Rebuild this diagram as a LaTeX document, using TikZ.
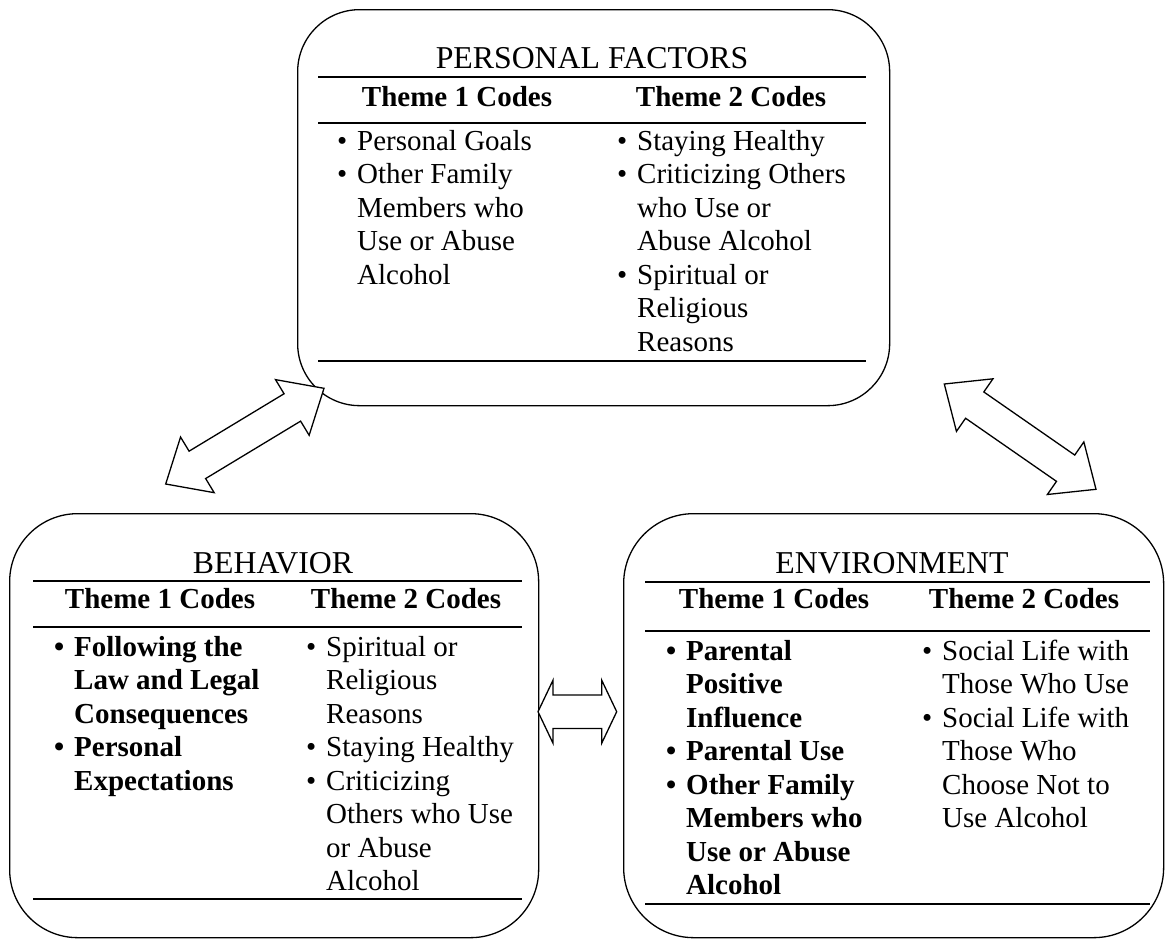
\documentclass[tikz,border=0pt]{standalone}
\usepackage{fontspec}
\setmainfont{Liberation Serif}
\usetikzlibrary{calc}
\newcommand{\bitem}[1]{\makebox[20pt][l]{\textbullet}#1}
\newcommand{\citem}[1]{\hspace*{20pt}#1}
\newcommand{\mydblarrow}[5]{%
  \coordinate (#1h) at ($(#1)!#3!(#2)$);
  \coordinate (#2h) at ($(#2)!#3!(#1)$);
  \draw[barrow] (#1)
   -- ($(#1h)!#4!90:(#2)$) -- ($(#1h)!#5!90:(#2)$)
   -- ($(#2h)!#5!-90:(#1)$) -- ($(#2h)!#4!-90:(#1)$)
   -- (#2)
   -- ($(#2h)!#4!90:(#1)$) -- ($(#2h)!#5!90:(#1)$)
   -- ($(#1h)!#5!-90:(#2)$) -- ($(#1h)!#4!-90:(#2)$)
   -- cycle;}
\begin{document}
\begin{tikzpicture}[x=1pt,y=-1pt,
  box/.style={draw, line width=1.3pt, inner sep=0pt, anchor=north west},
  rule/.style={line width=2.8pt},
  ttl/.style={anchor=base, inner sep=0pt, font=\fontsize{31.8}{36}\selectfont},
  hdr/.style={anchor=base, inner sep=0pt, font=\fontsize{29}{33.5}\selectfont\bfseries},
  col/.style={anchor=base west, inner sep=0pt, font=\fontsize{29}{33.5}\selectfont},
  bcol/.style={col, font=\fontsize{29}{33.5}\selectfont\bfseries},
  barrow/.style={draw, fill=white, line width=1.3pt, line join=miter}]
\useasboundingbox (0,0) rectangle (1165,940);

% ---------- boxes ----------
\node[box, rounded corners=62pt, minimum width=592pt, minimum height=396pt] (pf) at (297,9) {};
\node[box, rounded corners=68pt, minimum width=529pt, minimum height=424pt] (bh) at (9,513) {};
\node[box, rounded corners=70pt, minimum width=540pt, minimum height=424pt] (en) at (623,513) {};

% ---------- PERSONAL FACTORS ----------
\node[ttl] (pft) at (592,68) {PERSONAL FACTORS};
\draw[rule] (318,77) -- (866,77);
\node[hdr] (pfh1) at (457,106) {Theme 1 Codes};
\node[hdr] (pfh2) at (731,106) {Theme 2 Codes};
\draw[rule] (318,123) -- (866,123);
\node[col] (pfc1) at (337,150) {\begin{tabular}[t]{@{}l@{}}
\bitem{Personal Goals}\\ \bitem{Other Family}\\ \citem{Members who}\\ \citem{Use or Abuse}\\ \citem{Alcohol}
\end{tabular}};
\node[col] (pfc2) at (617,150) {\begin{tabular}[t]{@{}l@{}}
\bitem{Staying Healthy}\\ \bitem{Criticizing Others}\\ \citem{who Use or}\\ \citem{Abuse Alcohol}\\ \bitem{Spiritual or}\\ \citem{Religious}\\ \citem{Reasons}
\end{tabular}};
\draw[rule] (318,361) -- (866,361);

% ---------- BEHAVIOR ----------
\node[ttl] (bht) at (273,573) {BEHAVIOR};
\draw[rule] (33,581) -- (522,581);
\node[hdr] (bhh1) at (160,608) {Theme 1 Codes};
\node[hdr] (bhh2) at (406,608) {Theme 2 Codes};
\draw[rule] (33,627) -- (522,627);
\node[bcol] (bhc1) at (54,656) {\begin{tabular}[t]{@{}l@{}}
\bitem{Following the}\\ \citem{Law and Legal}\\ \citem{Consequences}\\ \bitem{Personal}\\ \citem{Expectations}
\end{tabular}};
\node[col] (bhc2) at (306,656) {\begin{tabular}[t]{@{}l@{}}
\bitem{Spiritual or}\\ \citem{Religious}\\ \citem{Reasons}\\ \bitem{Staying Healthy}\\ \bitem{Criticizing}\\ \citem{Others who Use}\\ \citem{or Abuse}\\ \citem{Alcohol}
\end{tabular}};
\draw[rule] (33,899) -- (522,899);

% ---------- ENVIRONMENT ----------
\node[ttl] (ent) at (892,573) {ENVIRONMENT};
\draw[rule] (645,582) -- (1150,582);
\node[hdr] (enh1) at (774,608) {Theme 1 Codes};
\node[hdr] (enh2) at (1024,608) {Theme 2 Codes};
\draw[rule] (645,631) -- (1150,631);
\node[bcol] (enc1) at (666,660) {\begin{tabular}[t]{@{}l@{}}
\bitem{Parental}\\ \citem{Positive}\\ \citem{Influence}\\ \bitem{Parental Use}\\ \bitem{Other Family}\\ \citem{Members who}\\ \citem{Use or Abuse}\\ \citem{Alcohol}
\end{tabular}};
\node[col] (enc2) at (922,660) {\begin{tabular}[t]{@{}l@{}}
\bitem{Social Life with}\\ \citem{Those Who Use}\\ \bitem{Social Life with}\\ \citem{Those Who}\\ \citem{Choose Not to}\\ \citem{Use Alcohol}
\end{tabular}};
\draw[rule] (645,904) -- (1150,904);

% ---------- block arrows ----------
\coordinate (a1) at (165.7,484);
\coordinate (b1) at (324,388.3);
\mydblarrow{a1}{b1}{37pt}{32.5pt}{16pt}
\coordinate (a2) at (944.3,384);
\coordinate (b2) at (1096,489.3);
\mydblarrow{a2}{b2}{37pt}{32pt}{16pt}
\coordinate (a3) at (538,711.7);
\coordinate (b3) at (616.7,711.7);
\mydblarrow{a3}{b3}{15pt}{31.5pt}{16.7pt}
\end{tikzpicture}
\end{document}
